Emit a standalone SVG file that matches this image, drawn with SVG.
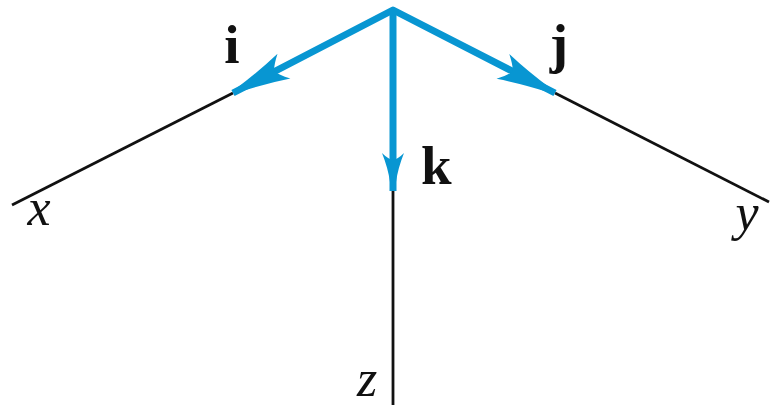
<svg xmlns="http://www.w3.org/2000/svg" width="771" height="409" viewBox="0 0 771 409">
<style>
.axis{stroke:#111;stroke-width:2.8;fill:none}
.vec{stroke:#0896d2;stroke-width:7;fill:none;stroke-linecap:butt;stroke-linejoin:round}
.head{fill:#0896d2}
.b{font-family:"Liberation Serif",serif;font-weight:bold;font-size:55px;fill:#111}
.it{font-family:"Liberation Serif",serif;font-style:italic;font-size:52px;fill:#111}
</style>
<defs>
<path id="hd" d="M0,-2 Q-30,-7 -54,-14 Q-45,-5 -43,0 Q-45,5 -54,14 Q-30,7 0,2Z"/>
<path id="hk" d="M0,-3 Q-14,-5 -29,-11 Q-23,-5 -22,0 Q-23,5 -29,11 Q-14,5 0,3Z"/>
</defs>
<g id="connectors">
<line class="axis" x1="233" y1="93" x2="12" y2="205"/>
<line class="axis" x1="555" y1="93" x2="769" y2="202"/>
<line class="axis" x1="393" y1="190" x2="393" y2="405"/>
<polyline class="vec" points="233,93 393,10 555,93"/>
<line class="vec" x1="393" y1="10" x2="393" y2="191"/>
<use href="#hd" class="head" transform="translate(236,91) rotate(152.6)"/>
<use href="#hd" class="head" transform="translate(551,91) rotate(27.1)"/>
<use href="#hk" class="head" transform="translate(393,182) rotate(90)"/>
</g>
<g id="i"><text class="b" x="232" y="63" text-anchor="middle">i</text></g>
<g id="j"><text class="b" x="559" y="62" text-anchor="middle">j</text></g>
<g id="k"><text class="b" x="421" y="184">k</text></g>
<g id="x"><text class="it" x="39" y="225" text-anchor="middle">x</text></g>
<g id="y"><text class="it" x="747" y="230" text-anchor="middle">y</text></g>
<g id="z"><text class="it" x="367" y="396" text-anchor="middle">z</text></g>
</svg>
